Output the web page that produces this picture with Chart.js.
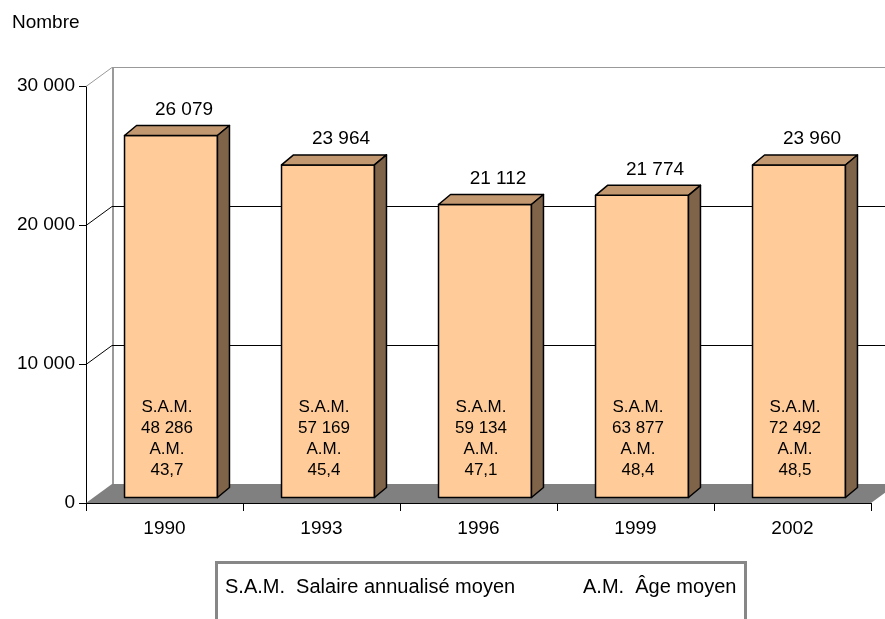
<!DOCTYPE html>
<html lang="fr">
<head>
<meta charset="utf-8">
<title>Nombre</title>
<script src="https://cdn.jsdelivr.net/npm/chart.js@4.4.1/dist/chart.umd.min.js"></script>
<style>
  html, body { margin: 0; padding: 0; background: #fff; overflow: hidden; }
  #wrap { position: relative; width: 885px; height: 619px; overflow: hidden; font-family: "Liberation Sans", Arial, sans-serif; color: #000; }
  #chart { position: absolute; left: 0; top: 0; }
  #unit { position: absolute; left: 12px; top: 12px; font-size: 19px; line-height: 20px; }
  #legend { position: absolute; left: 215px; top: 561px; width: 532px; height: 90px; border: 3px solid #878787; box-sizing: border-box; font-size: 20px; line-height: 20px; white-space: pre; }
  #legend span { position: absolute; top: 12px; }
</style>
</head>
<body>
<div id="wrap">
  <canvas id="chart" width="885" height="619"></canvas>
  <div id="unit">Nombre</div>
  <div id="legend"><span style="left:7px">S.A.M.  Salaire annualisé moyen</span><span style="left:365px">A.M.  Âge moyen</span></div>
</div>
<script>
var years = ['1990', '1993', '1996', '1999', '2002'];
var nombre = [26079, 23964, 21112, 21774, 23960];
var salaire = [48286, 57169, 59134, 63877, 72492];
var ageMoyen = [43.7, 45.4, 47.1, 48.4, 48.5];
var yTicks = [0, 10000, 20000, 30000];

var FONT = '"Liberation Sans", Arial, sans-serif';
// 3D look: wall depth, bar front offset, bar depth
var WALL_DX = 26, WALL_DY = -19;
var FRONT_DX = 6.5, FRONT_DY = -5;
var BAR_DX = 12, BAR_DY = -10;

function fmtInt(v) { return String(v).replace(/\B(?=(\d{3})+(?!\d))/g, ' '); }
function fmtDec(v) { return v.toFixed(1).replace('.', ','); }

function poly(ctx, pts) {
    ctx.beginPath();
    ctx.moveTo(pts[0][0], pts[0][1]);
    for (var i = 1; i < pts.length; i++) ctx.lineTo(pts[i][0], pts[i][1]);
    ctx.closePath();
}

var walls = {
    id: 'walls',
    beforeDatasetsDraw: function (chart) {
        var ctx = chart.ctx, a = chart.chartArea, y = chart.scales.y;
        ctx.save();
        // floor
        poly(ctx, [[a.left, a.bottom], [a.right, a.bottom], [a.right + WALL_DX, a.bottom + WALL_DY], [a.left + WALL_DX, a.bottom + WALL_DY]]);
        ctx.fillStyle = '#808080';
        ctx.fill();
        // back wall left edge
        ctx.lineWidth = 2;
        ctx.strokeStyle = '#9a9a9a';
        ctx.beginPath();
        ctx.moveTo(a.left + WALL_DX + 1, a.bottom + WALL_DY);
        ctx.lineTo(a.left + WALL_DX + 1, a.top + WALL_DY);
        ctx.stroke();
        // gridlines on side and back walls
        ctx.lineWidth = 1;
        y.ticks.forEach(function (t) {
            if (t.value === 0) return;
            var py = Math.round(y.getPixelForValue(t.value)) + 0.5;
            ctx.strokeStyle = t.value === y.max ? '#999' : '#000';
            ctx.beginPath();
            ctx.moveTo(a.left, py);
            ctx.lineTo(a.left + WALL_DX, py + WALL_DY);
            ctx.lineTo(a.right + WALL_DX + 20, py + WALL_DY);
            ctx.stroke();
        });
        ctx.restore();
    },
    afterDatasetsDraw: function (chart) {
        var ctx = chart.ctx;
        var meta = chart.getDatasetMeta(0);
        ctx.save();
        ctx.lineWidth = 1.5;
        ctx.strokeStyle = '#000';
        ctx.lineJoin = 'round';
        meta.data.forEach(function (bar, i) {
            var p = bar.getProps(['x', 'y', 'base', 'width'], true);
            var L = p.x - p.width / 2 + FRONT_DX, R = p.x + p.width / 2 + FRONT_DX;
            var T = p.y + FRONT_DY, B = p.base + FRONT_DY;
            // front outline
            ctx.strokeRect(L, T, R - L, B - T);
            // top face
            poly(ctx, [[L, T], [R, T], [R + BAR_DX, T + BAR_DY], [L + BAR_DX, T + BAR_DY]]);
            ctx.fillStyle = '#C29870';
            ctx.fill();
            ctx.stroke();
            // side face
            poly(ctx, [[R, T], [R + BAR_DX, T + BAR_DY], [R + BAR_DX, B + BAR_DY], [R, B]]);
            ctx.fillStyle = '#7F644A';
            ctx.fill();
            ctx.stroke();

            ctx.fillStyle = '#000';
            ctx.textAlign = 'center';
            ctx.textBaseline = 'middle';
            ctx.font = '19px ' + FONT;
            ctx.fillText(fmtInt(nombre[i]), p.x + FRONT_DX + 13, T + BAR_DY - 16);

            ctx.font = '17px ' + FONT;
            var cx = p.x + FRONT_DX - 4;
            var lines = ['S.A.M.', fmtInt(salaire[i]), 'A.M.', fmtDec(ageMoyen[i])];
            lines.forEach(function (s, k) {
                ctx.fillText(s, cx, B - 90 + k * 21);
            });
        });
        ctx.restore();
    }
};

var shift = {
    id: 'shift',
    beforeDatasetDraw: function (chart) {
        chart.ctx.save();
        chart.ctx.translate(FRONT_DX, FRONT_DY);
    },
    afterDatasetDraw: function (chart) {
        chart.ctx.restore();
    }
};

new Chart(document.getElementById('chart').getContext('2d'), {
    type: 'bar',
    data: {
        labels: years,
        datasets: [{
            label: 'Nombre',
            data: nombre,
            backgroundColor: '#FFCC99',
            borderWidth: 0,
            barPercentage: 0.592,
            categoryPercentage: 1,
            clip: false
        }]
    },
    options: {
        responsive: false,
        animation: false,
        devicePixelRatio: 1,
        layout: { padding: { top: 86, right: 14, left: 0, bottom: 0 } },
        plugins: {
            legend: { display: false },
            tooltip: { enabled: false }
        },
        scales: {
            x: {
                z: 1,
                ticks: { color: '#000', font: { family: FONT, size: 19 }, padding: 6 },
                grid: { offset: true, drawOnChartArea: false, tickLength: 8, color: '#000' },
                border: { color: '#000', width: 1 },
                afterFit: function (s) { s.height = 116; }
            },
            y: {
                z: 1,
                min: 0,
                max: 30000,
                afterBuildTicks: function (s) { s.ticks = yTicks.map(function (v) { return { value: v }; }); },
                ticks: { color: '#000', font: { family: FONT, size: 19 }, padding: 4, callback: function (v) { return fmtInt(v); } },
                grid: { drawOnChartArea: false, tickLength: 7, color: '#000' },
                border: { color: '#000', width: 1 },
                afterFit: function (s) { s.width = 86; }
            }
        }
    },
    plugins: [walls, shift]
});
</script>
</body>
</html>
